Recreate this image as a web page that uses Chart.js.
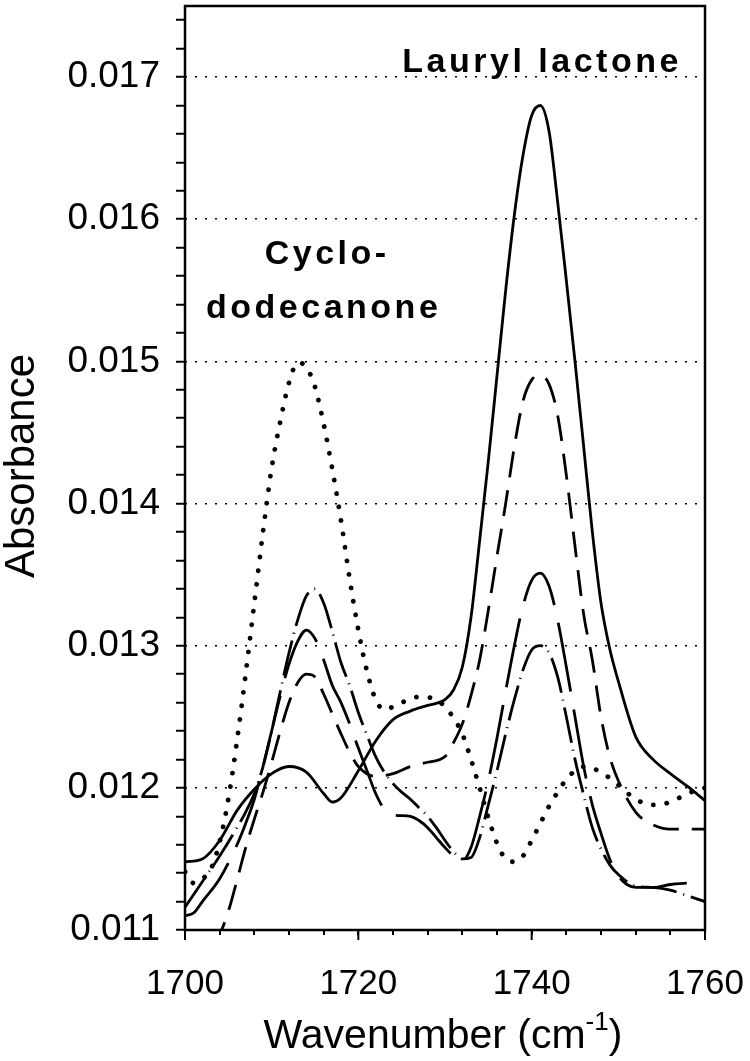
<!DOCTYPE html>
<html>
<head>
<meta charset="utf-8">
<script src="https://cdn.jsdelivr.net/npm/chart.js@4.4.0/dist/chart.umd.min.js"></script>
<style>
  html, body { margin: 0; padding: 0; background: #fff; }
  #wrap { width: 750px; height: 1061px; }
</style>
</head>
<body>
<div id="wrap"><canvas id="chart" width="750" height="1061"></canvas></div>
<script>
// Spectra (wavenumber in cm-1, absorbance)
const solidX = [1700, 1702, 1704, 1706, 1708, 1710, 1712, 1714, 1716, 1717, 1718, 1720, 1722, 1724, 1726, 1728, 1730, 1731, 1732, 1733, 1734, 1735, 1736, 1737, 1738, 1739, 1740, 1741, 1742, 1743, 1744, 1745, 1746, 1747, 1748, 1749, 1750, 1752, 1754, 1756, 1758, 1760];
const solidY = [0.01148, 0.01150, 0.01163, 0.01184, 0.01199, 0.01210, 0.01215, 0.01211, 0.01196, 0.01190, 0.01193, 0.01212, 0.01233, 0.01248, 0.01254, 0.01258, 0.01262, 0.01269, 0.01285, 0.01320, 0.01374, 0.01430, 0.01490, 0.01550, 0.01603, 0.01645, 0.01673, 0.01680, 0.01662, 0.01612, 0.01557, 0.01500, 0.01440, 0.01380, 0.01330, 0.01298, 0.01275, 0.01236, 0.01220, 0.01210, 0.01201, 0.01191];

const dottedX = [1700, 1701, 1702, 1703, 1704, 1705, 1706, 1707, 1708, 1709, 1710, 1711, 1712, 1713, 1714, 1715, 1716, 1717, 1718, 1719, 1720, 1721, 1722, 1723, 1724, 1725, 1727, 1729, 1730, 1731, 1732, 1733, 1734, 1735, 1736, 1737, 1738, 1739, 1740, 1741, 1742, 1743, 1744, 1745, 1746, 1748, 1750, 1752, 1754, 1756, 1758, 1760];
const dottedY = [0.01141, 0.01133, 0.01136, 0.01143, 0.01162, 0.01192, 0.01233, 0.01280, 0.01330, 0.01380, 0.01425, 0.01458, 0.01485, 0.01499, 0.01496, 0.01482, 0.01456, 0.01424, 0.01388, 0.01347, 0.01311, 0.01282, 0.01262, 0.01255, 0.01257, 0.01260, 0.01264, 0.01262, 0.01257, 0.01249, 0.01238, 0.01220, 0.01200, 0.01179, 0.01161, 0.01150, 0.01148, 0.01152, 0.01163, 0.01175, 0.01187, 0.01197, 0.01206, 0.01212, 0.01215, 0.01211, 0.01202, 0.01192, 0.01188, 0.01190, 0.01196, 0.01200];

const dashX = [1700, 1702, 1704, 1705, 1706, 1707, 1708, 1709, 1710, 1711, 1712, 1713, 1714, 1715, 1716, 1717, 1718, 1719, 1720, 1722, 1724, 1726, 1728, 1730, 1731, 1732, 1733, 1734, 1735, 1736, 1737, 1738, 1739, 1740, 1741, 1742, 1743, 1744, 1745, 1746, 1747, 1748, 1749, 1750, 1752, 1754, 1756, 1758, 1760];
const dashY = [0.01070, 0.01082, 0.01097, 0.01113, 0.01135, 0.01158, 0.01178, 0.01197, 0.01218, 0.01240, 0.01260, 0.01274, 0.01280, 0.01278, 0.01266, 0.01252, 0.01238, 0.01225, 0.01215, 0.01208, 0.01210, 0.01215, 0.01218, 0.01222, 0.01232, 0.01245, 0.01265, 0.01290, 0.01325, 0.01363, 0.01400, 0.01440, 0.01472, 0.01487, 0.01490, 0.01484, 0.01462, 0.01420, 0.01370, 0.01322, 0.01290, 0.01250, 0.01222, 0.01205, 0.01183, 0.01174, 0.01171, 0.01171, 0.01171];

const dashDotX = [1700, 1702, 1704, 1706, 1707, 1708, 1709, 1710, 1711, 1712, 1713, 1714, 1715, 1716, 1717, 1718, 1719, 1720, 1721, 1722, 1723, 1724, 1725, 1726, 1727, 1728, 1729, 1730, 1731, 1732, 1733, 1734, 1735, 1736, 1737, 1738, 1739, 1740, 1741, 1742, 1743, 1744, 1745, 1746, 1747, 1748, 1749, 1750, 1752, 1754, 1756, 1758, 1760];
const dashDotY = [0.01116, 0.01134, 0.01152, 0.01172, 0.01183, 0.01196, 0.01215, 0.01240, 0.01268, 0.01295, 0.01318, 0.01335, 0.01340, 0.01330, 0.01310, 0.01288, 0.01272, 0.01253, 0.01237, 0.01222, 0.01211, 0.01203, 0.01197, 0.01192, 0.01186, 0.01180, 0.01172, 0.01163, 0.01155, 0.01150, 0.01151, 0.01165, 0.01188, 0.01212, 0.01238, 0.01262, 0.01283, 0.01297, 0.01300, 0.01295, 0.01278, 0.01250, 0.01220, 0.01195, 0.01172, 0.01157, 0.01146, 0.01139, 0.01131, 0.01130, 0.01128, 0.01124, 0.01120];

const longDashX = [1700, 1701, 1702, 1704, 1706, 1707, 1708, 1709, 1710, 1711, 1712, 1713, 1714, 1715, 1716, 1717, 1718, 1719, 1720, 1721, 1722, 1723, 1724, 1726, 1727, 1728, 1729, 1730, 1731, 1732, 1733, 1734, 1735, 1736, 1737, 1738, 1739, 1740, 1741, 1742, 1743, 1744, 1745, 1746, 1747, 1748, 1749, 1750, 1751, 1752, 1754, 1756, 1758, 1760];
const longDashY = [0.01110, 0.01112, 0.01120, 0.01136, 0.01160, 0.01175, 0.01192, 0.01215, 0.01240, 0.01265, 0.01287, 0.01303, 0.01311, 0.01305, 0.01290, 0.01272, 0.01260, 0.01245, 0.01228, 0.01212, 0.01196, 0.01185, 0.01181, 0.01180, 0.01177, 0.01172, 0.01165, 0.01158, 0.01152, 0.01149, 0.01158, 0.01180, 0.01205, 0.01235, 0.01268, 0.01300, 0.01328, 0.01346, 0.01351, 0.01342, 0.01318, 0.01285, 0.01250, 0.01215, 0.01188, 0.01168, 0.01150, 0.01138, 0.01132, 0.01130, 0.01130, 0.01132, 0.01133, 0.01133];

const xTickLabels = [1700, 1720, 1740, 1760];
const yTickLabels = [0.011, 0.012, 0.013, 0.014, 0.015, 0.016, 0.017];

const FONT = "'Liberation Sans', Arial, sans-serif";

function points(xs, ys) {
    return xs.map((x, i) => ({ x: x, y: ys[i] }));
}

function isMajorY(v) {
    return yTickLabels.some(t => Math.abs(t - v) < 1e-7);
}

function line(xs, ys, dash, width, cap) {
    return {
        data: points(xs, ys),
        borderColor: '#000',
        borderWidth: width,
        borderDash: dash,
        borderCapStyle: cap || 'butt',
        pointRadius: 0,
        fill: false,
        cubicInterpolationMode: 'monotone'
    };
}

// frame, long ticks and all the free text
const decorations = {
    id: 'decorations',
    afterDraw(chart) {
        const { ctx, chartArea: a, scales: { x, y } } = chart;
        ctx.save();
        ctx.strokeStyle = '#000';
        ctx.lineWidth = 2.5;
        ctx.strokeRect(a.left, a.top, a.right - a.left, a.bottom - a.top);

        // major x ticks are longer
        ctx.lineWidth = 2;
        xTickLabels.forEach(v => {
            const px = x.getPixelForValue(v);
            ctx.beginPath();
            ctx.moveTo(px, a.bottom);
            ctx.lineTo(px, a.bottom + 10);
            ctx.stroke();
        });

        ctx.fillStyle = '#000';
        ctx.textAlign = 'center';
        ctx.textBaseline = 'middle';
        ctx.font = 'bold 34px ' + FONT;
        ctx.letterSpacing = '3.5px';
        ctx.fillText('Lauryl lactone', x.getPixelForValue(1741.2), y.getPixelForValue(0.0171));
        ctx.fillText('Cyclo-', x.getPixelForValue(1716.4), y.getPixelForValue(0.01575));
        ctx.fillText('dodecanone', x.getPixelForValue(1716.0), y.getPixelForValue(0.01537));
        ctx.letterSpacing = '0px';

        // y title
        ctx.save();
        ctx.font = '42px ' + FONT;
        ctx.translate(22, 466);
        ctx.rotate(-Math.PI / 2);
        ctx.fillText('Absorbance', 0, 0);
        ctx.restore();

        // x title with superscript
        ctx.textAlign = 'left';
        ctx.textBaseline = 'alphabetic';
        const main = '41px ' + FONT;
        const sup = '26px ' + FONT;
        ctx.font = main;
        const w1 = ctx.measureText('Wavenumber (cm').width;
        const w3 = ctx.measureText(')').width;
        ctx.font = sup;
        const w2 = ctx.measureText('-1').width;
        let cx = 443 - (w1 + w2 + w3) / 2;
        const base = 1048;
        ctx.font = main;
        ctx.fillText('Wavenumber (cm', cx, base);
        cx += w1;
        ctx.font = sup;
        ctx.fillText('-1', cx, base - 18);
        cx += w2;
        ctx.font = main;
        ctx.fillText(')', cx, base);
        ctx.restore();
    }
};

new Chart(document.getElementById('chart'), {
    type: 'line',
    data: {
        datasets: [
            line(solidX, solidY, [], 2.8),
            line(dottedX, dottedY, [0.1, 13.5], 4.8, 'round'),
            line(dashX, dashY, [26, 13], 2.8),
            line(dashDotX, dashDotY, [36, 7, 1, 7], 2.8),
            line(longDashX, longDashY, [70, 18], 2.8)
        ]
    },
    options: {
        responsive: false,
        animation: false,
        layout: { padding: { top: 6, right: 45, left: 0, bottom: 0 } },
        plugins: {
            legend: { display: false },
            tooltip: { enabled: false }
        },
        scales: {
            x: {
                type: 'linear',
                min: 1700,
                max: 1760,
                afterFit(scale) {
                    scale.height = 131;
                    scale.paddingLeft = 0;
                    scale.paddingRight = 0;
                },
                border: { display: false },
                grid: {
                    drawOnChartArea: false,
                    color: '#000',
                    tickColor: '#000',
                    tickLength: 5,
                    lineWidth: 2
                },
                ticks: {
                    stepSize: 4,
                    autoSkip: false,
                    maxRotation: 0,
                    padding: 28,
                    color: '#000',
                    font: { family: FONT, size: 35 },
                    callback: v => xTickLabels.includes(v) ? String(v) : ''
                }
            },
            y: {
                type: 'linear',
                min: 0.011,
                max: 0.0175,
                afterFit(scale) {
                    scale.width = 185;
                    scale.paddingTop = 0;
                    scale.paddingBottom = 0;
                },
                border: { display: false, dash: [2, 8] },
                grid: {
                    color: ctx => (isMajorY(ctx.tick.value) && ctx.tick.value > 0.0111) ? '#000' : 'rgba(0,0,0,0)',
                    tickColor: '#000',
                    tickLength: 9,
                    lineWidth: 1.5,
                    tickWidth: 2
                },
                ticks: {
                    stepSize: 0.0002,
                    includeBounds: false,
                    autoSkip: false,
                    padding: 16,
                    color: '#000',
                    font: { family: FONT, size: 37 },
                    callback: v => isMajorY(v) ? v.toFixed(3) : ''
                }
            }
        }
    },
    plugins: [decorations]
});
</script>
</body>
</html>
